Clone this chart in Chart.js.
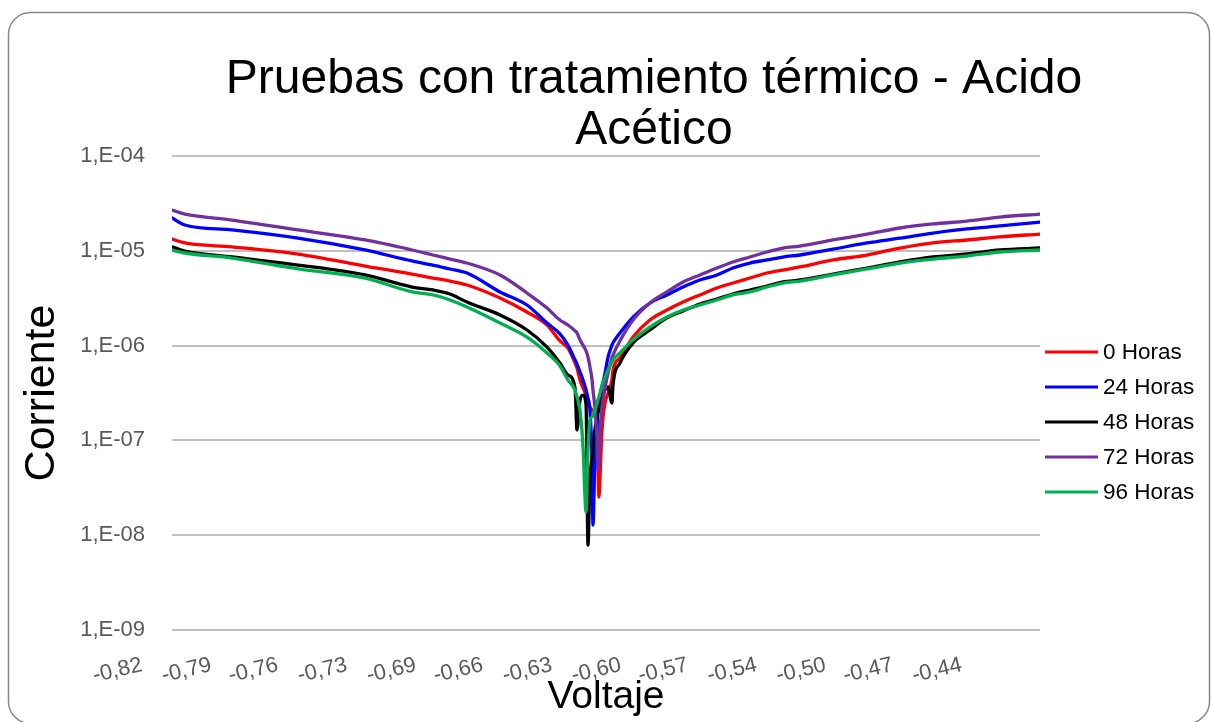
<!DOCTYPE html>
<html>
<head>
<meta charset="utf-8">
<script src="https://cdn.jsdelivr.net/npm/chart.js@4/dist/chart.umd.min.js"></script>
<style>
  html, body { margin: 0; padding: 0; background: #ffffff; }
  #wrap { width: 1211px; height: 722px; }
</style>
</head>
<body>
<div id="wrap"><canvas id="chart" width="1211" height="722"></canvas></div>
<script>
// Polarization curves, acetic acid, after heat treatment
const titleLines = ['Pruebas con tratamiento térmico - Acido', 'Acético'];
const seriesNames = ['0 Horas', '24 Horas', '48 Horas', '72 Horas', '96 Horas'];

// Applied potential (V)
const voltage = [-0.8200, -0.8140, -0.7922, -0.7616, -0.7305, -0.7087, -0.6990, -0.6911, -0.6832, -0.6679,
  -0.6554, -0.6461, -0.6401, -0.6364, -0.6331, -0.6322, -0.6308, -0.6294, -0.6280, -0.6271,
  -0.6262, -0.6252, -0.6248, -0.6239, -0.6229, -0.6225, -0.6220, -0.6215, -0.6206, -0.6192,
  -0.6178, -0.6160, -0.6155, -0.6123, -0.6062, -0.5984, -0.5905, -0.5830, -0.5752, -0.5673,
  -0.5599, -0.5520, -0.5441, -0.5367, -0.5288, -0.5135, -0.4977, -0.4824, -0.4671, -0.4514,
  -0.4361, -0.4175];

// Measured current (A) for each exposure time
const horas0 = [1.33e-5, 1.21e-5, 1.10e-5, 9.25e-6, 6.91e-6, 5.69e-6, 5.16e-6, 4.80e-6, 4.36e-6, 3.18e-6,
  2.26e-6, 1.65e-6, 1.12e-6, 9.43e-7, 6.55e-7, 5.80e-7, 4.34e-7, 3.57e-7, 3.01e-7, 2.48e-7,
  2.25e-7, 2.09e-7, 2.04e-7, 1.95e-7, 1.29e-7, 5.77e-8, 2.53e-8, 4.31e-8, 1.29e-7, 2.48e-7,
  3.16e-7, 4.34e-7, 5.53e-7, 7.40e-7, 1.23e-6, 1.86e-6, 2.37e-6, 2.88e-6, 3.42e-6, 4.05e-6,
  4.57e-6, 5.16e-6, 5.83e-6, 6.27e-6, 6.75e-6, 8.00e-6, 9.03e-6, 1.07e-5, 1.21e-5, 1.30e-5,
  1.40e-5, 1.50e-5];
const horas24 = [2.22e-5, 1.87e-5, 1.66e-5, 1.36e-5, 1.02e-5, 7.81e-6, 7.08e-6, 6.43e-6, 5.83e-6, 3.68e-6,
  2.68e-6, 1.73e-6, 1.33e-6, 1.01e-6, 7.05e-7, 6.39e-7, 5.27e-7, 4.34e-7, 3.40e-7, 2.80e-7,
  2.09e-7, 5.77e-8, 1.28e-8, 5.77e-8, 1.29e-7, 2.25e-7, 2.67e-7, 3.01e-7, 3.66e-7, 5.14e-7,
  7.58e-7, 1.01e-6, 1.07e-6, 1.36e-6, 2.00e-6, 2.81e-6, 3.42e-6, 4.15e-6, 4.92e-6, 5.56e-6,
  6.58e-6, 7.43e-6, 8.00e-6, 8.60e-6, 9.03e-6, 1.04e-5, 1.21e-5, 1.36e-5, 1.54e-5, 1.70e-5,
  1.83e-5, 2.01e-5];
const horas48 = [1.10e-5, 9.95e-6, 8.60e-6, 7.08e-6, 5.56e-6, 4.15e-6, 3.86e-6, 3.50e-6, 2.88e-6, 2.10e-6,
  1.46e-6, 9.66e-7, 6.55e-7, 4.89e-7, 3.57e-7, 1.29e-7, 2.67e-7, 3.01e-7, 2.36e-7, 7.88e-9,
  3.82e-8, 6.68e-8, 7.92e-8, 1.29e-7, 1.72e-7, 1.95e-7, 2.09e-7, 2.36e-7, 2.87e-7, 3.40e-7,
  3.66e-7, 2.48e-7, 3.84e-7, 6.55e-7, 1.07e-6, 1.46e-6, 1.96e-6, 2.32e-6, 2.75e-6, 3.10e-6,
  3.50e-6, 3.86e-6, 4.25e-6, 4.69e-6, 4.92e-6, 5.69e-6, 6.58e-6, 7.62e-6, 8.60e-6, 9.25e-6,
  1.02e-5, 1.07e-5];
const horas72 = [2.69e-5, 2.44e-5, 2.11e-5, 1.66e-5, 1.30e-5, 1.02e-5, 9.03e-6, 8.19e-6, 7.43e-6, 5.56e-6,
  3.59e-6, 2.49e-6, 1.86e-6, 1.65e-6, 1.43e-6, 1.36e-6, 1.15e-6, 1.01e-6, 8.77e-7, 7.58e-7,
  5.95e-7, 4.34e-7, 3.40e-7, 2.25e-7, 1.01e-7, 4.87e-8, 7.01e-8, 1.29e-7, 2.25e-7, 3.57e-7,
  5.14e-7, 7.40e-7, 7.96e-7, 1.12e-6, 1.86e-6, 2.81e-6, 3.68e-6, 4.69e-6, 5.56e-6, 6.58e-6,
  7.62e-6, 8.60e-6, 9.71e-6, 1.07e-5, 1.12e-5, 1.30e-5, 1.50e-5, 1.74e-5, 1.92e-5, 2.06e-5,
  2.27e-5, 2.44e-5];
const horas96 = [1.02e-5, 9.48e-6, 8.39e-6, 6.43e-6, 5.16e-6, 3.68e-6, 3.42e-6, 3.03e-6, 2.55e-6, 1.73e-6,
  1.23e-6, 8.35e-7, 6.09e-7, 4.34e-7, 3.40e-7, 2.87e-7, 2.09e-7, 8.51e-8, 1.76e-8, 7.92e-8,
  1.64e-7, 1.77e-7, 1.85e-7, 2.09e-7, 2.48e-7, 2.67e-7, 2.87e-7, 3.16e-7, 3.84e-7, 4.67e-7,
  5.53e-7, 6.71e-7, 7.05e-7, 8.35e-7, 1.15e-6, 1.57e-6, 2.00e-6, 2.37e-6, 2.68e-6, 3.03e-6,
  3.42e-6, 3.68e-6, 4.15e-6, 4.57e-6, 4.80e-6, 5.56e-6, 6.43e-6, 7.43e-6, 8.19e-6, 8.81e-6,
  9.71e-6, 1.02e-5];

// Axis ticks
const xTickValues = [-0.820, -0.788, -0.757, -0.725, -0.693, -0.662, -0.630, -0.598, -0.567, -0.535, -0.503, -0.472, -0.440];
const xTickLabels = ['-0,82', '-0,79', '-0,76', '-0,73', '-0,69', '-0,66', '-0,63', '-0,60', '-0,57', '-0,54', '-0,50', '-0,47', '-0,44'];
const yTickValues = [1e-9, 1e-8, 1e-7, 1e-6, 1e-5, 1e-4];
const yTickLabels = ['1,E-09', '1,E-08', '1,E-07', '1,E-06', '1,E-05', '1,E-04'];

const FONT = "'Liberation Sans', Arial, sans-serif";
const seriesValues = [horas0, horas24, horas48, horas72, horas96];
const seriesColors = ['#ff0000', '#0000ff', '#000000', '#7030a0', '#00b050'];
// later series are painted over earlier ones
const seriesOrder = [4, 3, 2, 1, 0];

const datasets = seriesNames.map((name, s) => ({
  label: name,
  data: voltage.map((v, i) => ({ x: v, y: seriesValues[s][i] })),
  borderColor: seriesColors[s],
  backgroundColor: seriesColors[s],
  borderWidth: 3.3,
  borderJoinStyle: 'round',
  borderCapStyle: 'round',
  cubicInterpolationMode: 'monotone',
  pointRadius: 0,
  fill: false,
  order: seriesOrder[s]
}));

// white page with rounded outer frame
const frame = {
  id: 'frame',
  beforeDraw(chart) {
    const { ctx, width, height } = chart;
    const x = 8.5, y = 12.5, w = width - 10, h = height - 11, r = 22;
    ctx.save();
    ctx.fillStyle = '#ffffff';
    ctx.fillRect(0, 0, width, height);
    ctx.strokeStyle = '#888888';
    ctx.lineWidth = 1.5;
    ctx.beginPath();
    ctx.moveTo(x + r, y);
    ctx.lineTo(x + w - r, y);
    ctx.arcTo(x + w, y, x + w, y + r, r);
    ctx.lineTo(x + w, y + h - r);
    ctx.arcTo(x + w, y + h, x + w - r, y + h, r);
    ctx.lineTo(x + r, y + h);
    ctx.arcTo(x, y + h, x, y + h - r, r);
    ctx.lineTo(x, y + r);
    ctx.arcTo(x, y, x + r, y, r);
    ctx.closePath();
    ctx.stroke();
    ctx.restore();
  }
};

// two-line heading above the plot
const heading = {
  id: 'heading',
  afterDraw(chart) {
    const ctx = chart.ctx;
    ctx.save();
    ctx.font = `48px ${FONT}`;
    ctx.fillStyle = '#000000';
    ctx.textAlign = 'center';
    ctx.textBaseline = 'alphabetic';
    titleLines.forEach((line, i) => ctx.fillText(line, 654, 93 + i * 51));
    ctx.restore();
  }
};

// legend to the right of the plot
const sideLegend = {
  id: 'sideLegend',
  afterDraw(chart) {
    const ctx = chart.ctx;
    const x0 = chart.chartArea.right + 5;
    ctx.save();
    ctx.font = `22.5px ${FONT}`;
    ctx.textAlign = 'left';
    ctx.textBaseline = 'middle';
    chart.data.datasets.forEach((ds, i) => {
      const y = 352 + i * 35;
      ctx.strokeStyle = ds.borderColor;
      ctx.lineWidth = 3;
      ctx.beginPath();
      ctx.moveTo(x0, y);
      ctx.lineTo(x0 + 53, y);
      ctx.stroke();
      ctx.fillStyle = '#000000';
      ctx.fillText(ds.label, x0 + 58, y + 1);
    });
    ctx.restore();
  }
};

new Chart(document.getElementById('chart'), {
  type: 'line',
  data: { datasets },
  plugins: [frame, heading, sideLegend],
  options: {
    responsive: false,
    animation: false,
    devicePixelRatio: 1,
    layout: { padding: { left: 0, top: 156, right: 171, bottom: 0 } },
    plugins: {
      legend: { display: false },
      title: { display: false },
      tooltip: { enabled: false }
    },
    scales: {
      x: {
        type: 'linear',
        min: -0.82,
        max: -0.4175,
        afterFit(scale) { scale.height = 92; },
        afterBuildTicks(scale) { scale.ticks = xTickValues.map(v => ({ value: v })); },
        grid: { display: false, drawTicks: false },
        border: { display: false },
        ticks: {
          autoSkip: false,
          minRotation: 13,
          maxRotation: 13,
          padding: 22,
          labelOffset: -30,
          color: '#595959',
          font: { family: FONT, size: 22 },
          callback: (v, i) => xTickLabels[i]
        },
        title: {
          display: true,
          text: 'Voltaje',
          color: '#000000',
          font: { family: FONT, size: 39 },
          padding: { top: 0, bottom: 1 }
        }
      },
      y: {
        type: 'logarithmic',
        min: 1e-9,
        max: 1e-4,
        afterFit(scale) { scale.width = 172; },
        afterBuildTicks(scale) { scale.ticks = yTickValues.map(v => ({ value: v })); },
        grid: { color: '#c0c0c0', lineWidth: 2, drawTicks: false },
        border: { display: false },
        ticks: {
          padding: 27,
          color: '#595959',
          font: { family: FONT, size: 22 },
          callback: (v, i) => yTickLabels[i]
        },
        title: {
          display: true,
          text: 'Corriente',
          color: '#000000',
          font: { family: FONT, size: 43 },
          padding: { top: 16, bottom: 0 }
        }
      }
    }
  }
});
</script>
</body>
</html>
